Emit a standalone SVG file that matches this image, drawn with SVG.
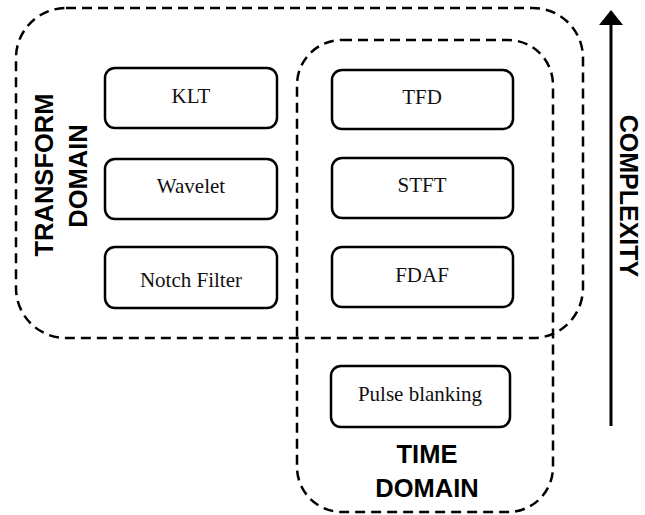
<svg xmlns="http://www.w3.org/2000/svg" width="645" height="515" viewBox="0 0 645 515">
<style>
.region{fill:none;stroke:#000;stroke-width:2.5;stroke-dasharray:10 6}
.box{fill:#fff;stroke:#000;stroke-width:2.5}
.lbl{font-family:"Liberation Serif","Times New Roman",serif;font-size:21px;text-anchor:middle;fill:#111}
.big{font-family:"Liberation Sans",Arial,sans-serif;font-weight:bold;font-size:25.5px;text-anchor:middle;fill:#000}
</style>
<g id="transform-domain">
<rect class="region" x="16" y="8" width="567" height="330" rx="50" ry="50"/>
<text class="big" transform="translate(53,175) rotate(-90)">TRANSFORM</text>
<text class="big" transform="translate(87,176) rotate(-90)">DOMAIN</text>
</g>
<g id="time-domain">
<rect class="region" x="297" y="40" width="256" height="472" rx="45" ry="45"/>
<text class="big" x="427" y="463">TIME</text>
<text class="big" x="427" y="497">DOMAIN</text>
</g>
<g id="klt"><rect class="box" x="105" y="68" width="172" height="60" rx="10"/><text class="lbl" x="191" y="103">KLT</text></g>
<g id="wavelet"><rect class="box" x="105" y="159" width="172" height="60" rx="10"/><text class="lbl" x="191" y="193">Wavelet</text></g>
<g id="notch"><rect class="box" x="105" y="247" width="172" height="61" rx="10"/><text class="lbl" x="191" y="287">Notch Filter</text></g>
<g id="tfd"><rect class="box" x="332" y="70" width="181" height="59" rx="10"/><text class="lbl" x="422" y="104">TFD</text></g>
<g id="stft"><rect class="box" x="332" y="158" width="181" height="60" rx="10"/><text class="lbl" x="422" y="192">STFT</text></g>
<g id="fdaf"><rect class="box" x="332" y="247" width="181" height="60" rx="10"/><text class="lbl" x="422" y="282">FDAF</text></g>
<g id="pulse"><rect class="box" x="331" y="366" width="179" height="61" rx="10"/><text class="lbl" x="420" y="401">Pulse blanking</text></g>
<g id="connectors">
<line x1="611" y1="426" x2="611" y2="25" stroke="#000" stroke-width="3"/>
<path d="M599,25 L611,10 L623,25 Z" fill="#000"/>
</g>
<g id="complexity">
<text class="big" style="font-size:25px" transform="translate(620,196) rotate(90)">COMPLEXITY</text>
</g>
</svg>
